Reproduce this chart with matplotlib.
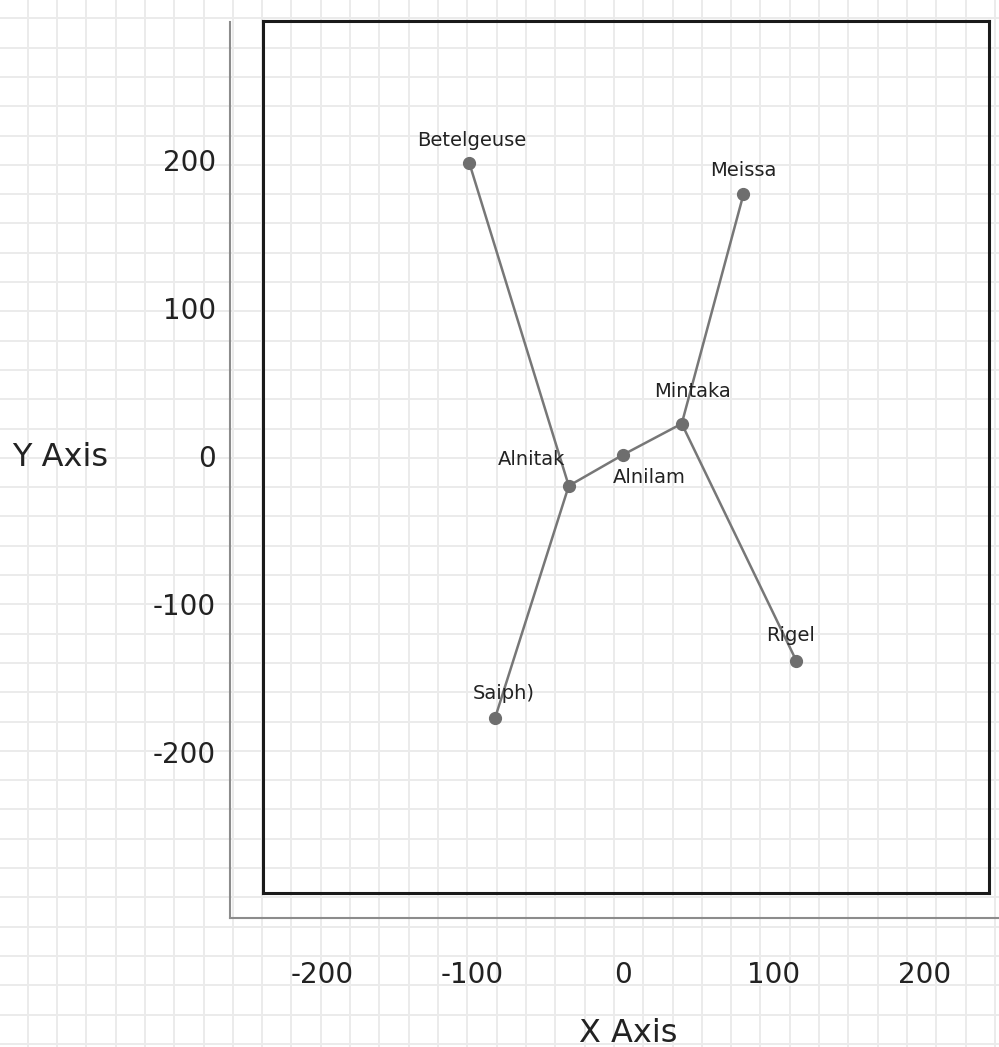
import numpy as np
import matplotlib
matplotlib.use("Agg")
import matplotlib.pyplot as plt
from matplotlib.lines import Line2D

# ---- data ----
star_names = ["Betelgeuse", "Meissa", "Mintaka", "Alnilam", "Alnitak", "Saiph)", "Rigel"]
star_x = [-102, 80, 39, 0, -36, -85, 115]
star_y = [198, 177, 22, 1, -20, -177, -138]
edges = [("Betelgeuse", "Alnitak"), ("Alnitak", "Alnilam"), ("Alnilam", "Mintaka"),
         ("Mintaka", "Meissa"), ("Mintaka", "Rigel"), ("Alnitak", "Saiph)")]
x_ticks = [-200, -100, 0, 100, 200]
y_ticks = [-200, -100, 0, 100, 200]
x_title = "X Axis"
y_title = "Y Axis"

# ---- styling / layout ----
label_offsets = {  # points
    "Betelgeuse": (1.5, 16.5), "Meissa": (0, 17), "Mintaka": (8, 23),
    "Alnilam": (19, -16), "Alnitak": (-27, 19), "Saiph)": (6, 18), "Rigel": (-4, 18),
}
W, H = 999, 1047
plt.rcParams['font.family'] = ['DejaVu Sans']
TXT = "#222222"

fig = plt.figure(figsize=(W / 100, H / 100), dpi=100)
fig.patch.set_facecolor("white")

def fx(px):
    return px / W

def fy(py):
    return 1 - py / H

# graph-paper background
for gx in np.arange(27.7 - 29.31, W + 30, 29.31):
    fig.add_artist(Line2D([fx(gx), fx(gx)], [0, 1], color="#ebebeb", lw=1.4, zorder=0))
for gy in np.arange(18.3 - 29.3, H + 30, 29.3):
    fig.add_artist(Line2D([0, 1], [fy(gy), fy(gy)], color="#ebebeb", lw=1.4, zorder=0))

# offset gray axis lines
fig.add_artist(Line2D([fx(230), fx(230)], [fy(22), fy(918)], color="#8c8c8c", lw=1.5, zorder=1))
fig.add_artist(Line2D([fx(230), fx(999)], [fy(918), fy(918)], color="#8c8c8c", lw=1.5, zorder=1))

ax = fig.add_axes([fx(263), fy(893), (989 - 263) / W, (893 - 21) / H])
ax.set_facecolor("none")
ax.set_xlim(-239, 243)
ax.set_ylim(-295, 294)
for s in ax.spines.values():
    s.set_color("#1a1a1a")
    s.set_linewidth(2.2)

pos = {n: (x, y) for n, x, y in zip(star_names, star_x, star_y)}
for a, b in edges:
    ax.plot([pos[a][0], pos[b][0]], [pos[a][1], pos[b][1]], color="#777777", lw=1.8,
            solid_capstyle="round", zorder=2)
ax.plot(star_x, star_y, linestyle="none", marker="o", markersize=8.5,
        color="#6e6e6e", zorder=3)
for n, x, y in zip(star_names, star_x, star_y):
    ax.annotate(n, (x, y), xytext=label_offsets[n], textcoords="offset points",
                ha="center", va="center", fontsize=14, color=TXT, zorder=4)

ax.set_xticks(x_ticks)
ax.set_yticks(y_ticks)
ax.set_xticklabels([str(v) for v in x_ticks])
ax.set_yticklabels([str(v) for v in y_ticks])
ax.tick_params(axis="both", length=0, labelsize=20, labelcolor=TXT)
ax.tick_params(axis="x", pad=49)
ax.tick_params(axis="y", pad=34)

ax.set_xlabel(x_title, fontsize=23, color=TXT)
ax.xaxis.set_label_coords((628 - 263) / 726, (893 - 1033) / 872)
ax.xaxis.label.set_va("center")
ax.set_ylabel(y_title, fontsize=23, color=TXT, rotation=0, ha="left", va="center")
ax.yaxis.set_label_coords((12 - 263) / 726, (893 - 457) / 872)

fig.savefig("out.png", dpi=100, facecolor="white")
